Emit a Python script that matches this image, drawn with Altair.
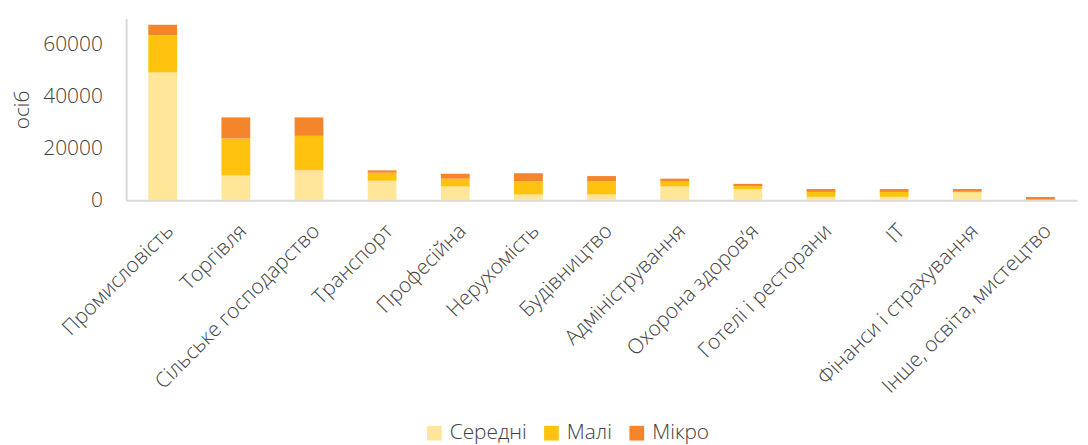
import altair as alt
import pandas as pd

categories = ["Промисловість", "Торгівля", "Сільське господарство", "Транспорт", "Професійна",
              "Нерухомість", "Будівництво", "Адміністрування", "Охорона здоров’я",
              "Готелі і ресторани", "ІТ", "Фінанси і страхування", "Інше, освіта, мистецтво"]
series = ["Середні", "Малі", "Мікро"]
medium = [49200, 9500, 11500, 7500, 5300, 2200, 2200, 5300, 4300, 1300, 1300, 3000, 150]
small = [14300, 14300, 13300, 3100, 3000, 5100, 5100, 2100, 1100, 1900, 1900, 300, 100]
micro = [4100, 8100, 7100, 900, 1900, 3100, 2000, 900, 900, 1100, 1100, 1000, 1000]
colors = ["#FFE699", "#FFC20E", "#F5852A"]

rows = []
for i, c in enumerate(categories):
    for j, (s, vals) in enumerate(zip(series, [medium, small, micro])):
        rows.append({"cat": c, "series": s, "value": vals[i], "ord": j})
df = pd.DataFrame(rows)

font = "Open Sans"
txt = "#404040"
chart = alt.Chart(df).mark_bar(size=29).encode(
    x=alt.X("cat:N", sort=categories, title=None,
            scale=alt.Scale(paddingInner=0.6, paddingOuter=0.3),
            axis=alt.Axis(labelAngle=-45, ticks=False, domainColor="#d9d9d9", domainWidth=2,
                          labelFontSize=21, labelColor=txt, labelFont=font, labelFontWeight=300,
                          labelPadding=20, labelLimit=400, labelOverlap=False)),
    y=alt.Y("value:Q", title="осіб", stack="zero",
            scale=alt.Scale(domain=[0, 70000]),
            axis=alt.Axis(values=[0, 20000, 40000, 60000], format="d", grid=False, ticks=False,
                          domainColor="#d9d9d9", domainWidth=2, labelFontSize=21,
                          labelColor=txt, labelFont=font, labelFontWeight=300, labelPadding=24,
                          titleFontSize=21, titleFont=font, titleColor=txt,
                          titleFontWeight=300, titlePadding=10)),
    color=alt.Color("series:N", sort=series, scale=alt.Scale(domain=series, range=colors),
                    legend=alt.Legend(title=None, orient="none", direction="horizontal",
                                      legendX=300, legendY=407, symbolType="square",
                                      symbolSize=220, symbolStrokeWidth=0, labelFontSize=21,
                                      labelFont=font, labelFontWeight=300, labelColor=txt,
                                      columnPadding=14, labelOffset=5)),
    order=alt.Order("ord:Q"),
).properties(
    width=958, height=183,
    autosize=alt.AutoSizeParams(type="none"),
    padding={"left": 119, "top": 9, "right": 3, "bottom": 245},
).configure_view(stroke=None)

chart.save("out.html", embed_options={"renderer": "svg", "actions": False})
